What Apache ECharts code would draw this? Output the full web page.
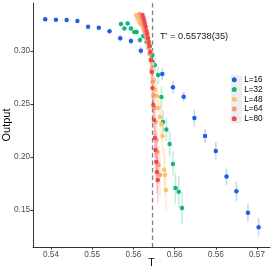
<!DOCTYPE html>
<html><head><meta charset="utf-8">
<script src="https://cdn.jsdelivr.net/npm/echarts@6/dist/echarts.min.js"></script>
<style>html,body{margin:0;padding:0;background:#fff}#c{width:273px;height:273px}</style>
</head><body><div id="c"></div>
<script>
// ---- data ----
const seriesNames = ['L=16','L=32','L=48','L=64','L=80'];
const T16 = [0.5393,0.5406,0.5419,0.5432,0.5445,0.5458,0.5471,0.5484,0.5497,0.5509,0.5523,0.5535,0.5548,0.5561,0.5574,0.5587,0.5600,0.5613,0.5625,0.5639,0.5652];
const Y16 = [0.3299,0.3295,0.3292,0.3283,0.3229,0.3220,0.3186,0.3120,0.3094,0.3003,0.2896,0.2783,0.2658,0.2569,0.2368,0.2198,0.2057,0.1815,0.1677,0.1475,0.1338];
const E16 = [0.0010,0.0010,0.0010,0.0012,0.0015,0.0015,0.0020,0.0030,0.0036,0.0040,0.0050,0.0055,0.0058,0.0047,0.0079,0.0066,0.0083,0.0079,0.0090,0.0083,0.0090];

const T32 = [0.5485,0.5489,0.5493,0.5497,0.5501,0.5504,0.5508,0.5512,0.5516,0.5520,0.5523,0.5526,0.5530,0.5534,0.5536,0.5540,0.5544,0.5548,0.5551,0.5555,0.5559];
const Y32 = [0.3255,0.3212,0.3259,0.3212,0.3179,0.3179,0.3104,0.3142,0.3085,0.3047,0.2962,0.2868,0.2774,0.2566,0.2331,0.2260,0.2123,0.1934,0.1708,0.1673,0.1520];
const E32 = [0.002,0.002,0.002,0.002,0.002,0.0025,0.003,0.003,0.004,0.005,0.006,0.007,0.008,0.010,0.011,0.011,0.012,0.012,0.015,0.015,0.015];

const T48 = [0.55032,0.55050,0.55068,0.55086,0.55104,0.55123,0.55141,0.55159,0.55177,0.55195,0.55214,0.55232,0.55250,0.55268,0.55286,0.55305,0.55323,0.55341,0.55353,0.55371,0.55383,0.55396];
const Y48 = [0.3340,0.3311,0.3278,0.3255,0.3245,0.3208,0.3189,0.3151,0.3104,0.3057,0.2991,0.2877,0.2727,0.2632,0.2576,0.2463,0.2378,0.2312,0.2198,0.1878,0.1831,0.1689];
const E48 = [0.002,0.002,0.002,0.003,0.003,0.003,0.004,0.004,0.005,0.005,0.006,0.008,0.010,0.012,0.014,0.015,0.016,0.018,0.018,0.020,0.020,0.020];

const T64 = [0.55074,0.55086,0.55098,0.55110,0.55123,0.55135,0.55147,0.55159,0.55171,0.55183,0.55195,0.55208,0.55220,0.55232,0.55244,0.55256,0.55268,0.55280,0.55292,0.55305,0.55323];
const Y64 = [0.3349,0.3321,0.3292,0.3255,0.3217,0.3189,0.3151,0.3113,0.3075,0.3028,0.2972,0.2915,0.2821,0.2708,0.2585,0.2463,0.2331,0.2161,0.2048,0.1925,0.1831];
const E64 = [0.002,0.002,0.002,0.003,0.003,0.003,0.004,0.004,0.005,0.005,0.006,0.007,0.008,0.010,0.012,0.014,0.015,0.016,0.018,0.018,0.020];

const T80 = [0.55111,0.55123,0.55132,0.55141,0.55150,0.55159,0.55169,0.55177,0.55187,0.55195,0.55205,0.55214,0.55223,0.55232,0.55242,0.55250,0.55260,0.55268,0.55278,0.55286,0.55296];
const Y80 = [0.3340,0.3311,0.3283,0.3255,0.3226,0.3189,0.3160,0.3123,0.3085,0.3047,0.2991,0.2915,0.2802,0.2651,0.2491,0.2349,0.2180,0.2066,0.1953,0.1859,0.1784];
const E80 = [0.002,0.002,0.002,0.003,0.003,0.003,0.004,0.004,0.005,0.005,0.006,0.008,0.010,0.012,0.014,0.016,0.018,0.018,0.020,0.020,0.022];

const xTickValues = [0.540,0.545,0.550,0.555,0.560,0.565];
const xTickLabels = ['0.54','0.55','0.56','0.56','0.56','0.57'];
const yTickValues = [0.15,0.20,0.25,0.30];
const yTickLabels = ['0.15','0.20','0.25','0.30'];
const criticalT = [0.55232];
const annotationText = "T' = 0.55738(35)";
const annotationPos = [0.55323, 0.31415];

// ---- styles ----
const colors = ['#1F5FE6','#12B57B','#FBC56A','#F99A7C','#F2484D'];
const font = 'Liberation Sans, Arial, sans-serif';
const allT = [T16,T32,T48,T64,T80];
const allY = [Y16,Y32,Y48,Y64,Y80];
const allE = [E16,E32,E48,E64,E80];

const chart = echarts.init(document.getElementById('c'), null, {renderer:'canvas'});
const series = [];
allT.forEach((T, k) => {
  series.push({
    name: 'err' + k, type: 'custom', z: 1, silent: true,
    data: T.map((t, i) => [t, allY[k][i], allE[k][i]]),
    encode: {x: 0, y: 1},
    renderItem: (params, api) => {
      const x = api.value(0), y = api.value(1), e = api.value(2);
      const p1 = api.coord([x, y - e]), p2 = api.coord([x, y + e]);
      return {type: 'line', shape: {x1: p1[0], y1: p1[1], x2: p2[0], y2: p2[1]},
        style: {stroke: colors[k], lineWidth: 1.6, opacity: 0.25}};
    }
  });
});
// dashed vertical critical line
series.push({
  name: 'vline', type: 'custom', z: 2, silent: true,
  data: criticalT.map(t => [t, 0.2]),
  encode: {x: 0, y: 1},
  renderItem: (params, api) => {
    const cs = params.coordSys;
    const px = api.coord([api.value(0), api.value(1)])[0];
    return {type: 'line', shape: {x1: px, y1: cs.y, x2: px, y2: cs.y + cs.height},
      style: {stroke: '#7f7f7f', lineWidth: 1.3, lineDash: [4.5, 3]}};
  }
});
allT.forEach((T, k) => {
  series.push({
    name: seriesNames[k], type: 'scatter', z: 3 + k, symbol: 'circle', symbolSize: 4.5,
    itemStyle: {color: colors[k], opacity: 1},
    data: T.map((t, i) => [t, allY[k][i]]),
    silent: true
  });
});

chart.setOption({
  animation: false,
  backgroundColor: '#fff',
  color: colors,
  grid: {left: 33, right: 3, top: 3, bottom: 26, containLabel: false, outerBoundsMode: 'none'},
  xAxis: {
    type: 'value', min: 0.537816, max: 0.566578,
    name: 'T', nameLocation: 'middle', nameGap: 11, nameMoveOverlap: false,
    nameTextStyle: {color: '#000', fontSize: 10.5, fontFamily: font, verticalAlign: 'top'},
    axisLine: {show: true, onZero: false, lineStyle: {color: '#333', width: 1}},
    axisTick: {show: true, length: 2.5, lineStyle: {color: '#333'}, customValues: xTickValues},
    axisLabel: {customValues: xTickValues, margin: 4, color: '#4d4d4d', fontSize: 8.2, fontFamily: font,
      formatter: v => { const i = xTickValues.findIndex(t => Math.abs(t - v) < 1e-6); return i >= 0 ? xTickLabels[i] : ''; }},
    splitLine: {show: false}
  },
  yAxis: {
    type: 'value', min: 0.1151, max: 0.3453,
    name: 'Output', nameLocation: 'middle', nameGap: 21, nameMoveOverlap: false,
    nameTextStyle: {color: '#000', fontSize: 11, fontFamily: font},
    axisLine: {show: true, onZero: false, lineStyle: {color: '#333', width: 1}},
    axisTick: {show: true, length: 2.5, lineStyle: {color: '#333'}, customValues: yTickValues},
    axisLabel: {customValues: yTickValues, margin: 3, color: '#4d4d4d', fontSize: 8.2, fontFamily: font,
      formatter: v => { const i = yTickValues.findIndex(t => Math.abs(t - v) < 1e-6); return i >= 0 ? yTickLabels[i] : ''; }},
    splitLine: {show: false}
  },
  legend: {
    data: seriesNames, orient: 'vertical', left: 231.7, top: 75, padding: 0,
    itemWidth: 10, itemHeight: 5, itemGap: 0, icon: 'circle',
    textStyle: {color: '#000', fontSize: 8.2, fontFamily: font, lineHeight: 9.7, height: 9.7}
  },
  series: series
});

const p = chart.convertToPixel({gridIndex: 0}, annotationPos);
chart.setOption({
  graphic: [
    {type: 'rect', z: 0, shape: {x: 231, y: 75, width: 11, height: 48.5}, style: {fill: '#efefef'}, silent: true},
    {type: 'text', x: p[0], y: p[1], z: 10, style: {text: annotationText, fill: '#1a1a1a', fontSize: 9.3, fontFamily: font, verticalAlign: 'middle', align: 'left'}}
  ]
});
</script></body></html>
